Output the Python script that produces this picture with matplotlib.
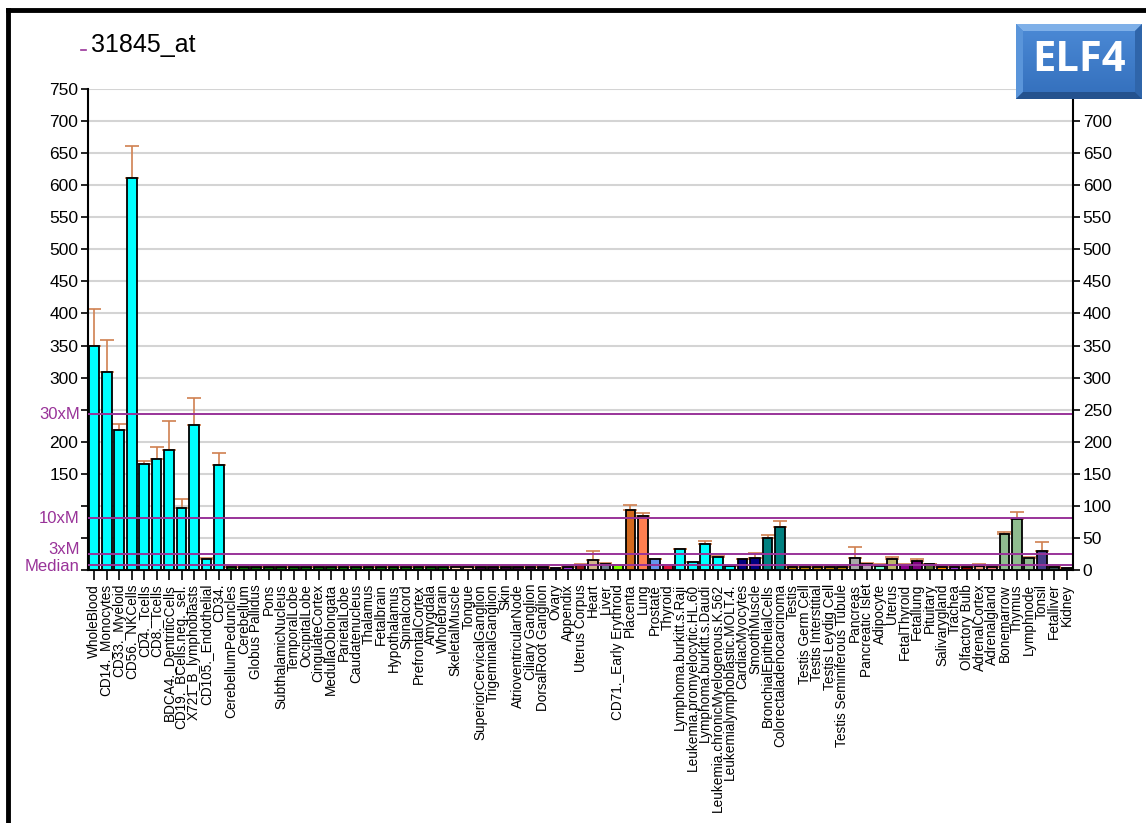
import matplotlib
matplotlib.use("Agg")
import matplotlib.pyplot as plt
from matplotlib.patches import Polygon
from matplotlib.lines import Line2D
import numpy as np

plt.rcParams['font.family'] = ['Liberation Sans', 'DejaVu Sans']

probe = "31845_at"
gene = "ELF4"

tissues = [
    "WholeBlood", "CD14._Monocytes", "CD33._Myeloid", "CD56._NKCells", "CD4._Tcells",
    "CD8._Tcells", "BDCA4._DentriticCells", "CD19._BCells.neg._sel.", "X721_B_lymphoblasts",
    "CD105._Endothelial", "CD34.", "CerebellumPeduncles", "Cerebellum", "Globus Pallidus",
    "Pons", "SubthalamicNucleus", "TemporalLobe", "OccipitalLobe", "CingulateCortex",
    "MedullaOblongata", "ParietalLobe", "Caudatenucleus", "Thalamus", "Fetalbrain",
    "Hypothalamus", "Spinalcord", "PrefrontalCortex", "Amygdala", "Wholebrain",
    "SkeletalMuscle", "Tongue", "SuperiorCervicalGanglion", "TrigeminalGanglion", "Skin",
    "AtrioventricularNode", "Ciliary Ganglion", "DorsalRoot Ganglion", "Ovary", "Appendix",
    "Uterus Corpus", "Heart", "Liver", "CD71._Early Erythroid", "Placenta", "Lung",
    "Prostate", "Thyroid", "Lymphoma.burkitt.s.Raji", "Leukemia.promyelocytic.HL.60",
    "Lymphoma.burkitt.s.Daudi", "Leukemia.chronicMyelogenous.K.562",
    "Leukemialymphoblastic.MOLT.4.", "CardiacMyocytes", "SmoothMuscle",
    "BronchialEpithelialCells", "Colorectaladenocarcinoma", "Testis", "Testis Germ Cell",
    "Testis Interstitial", "Testis Leydig Cell", "Testis Seminiferous Tubule", "Pancreas",
    "Pancreatic Islet", "Adipocyte", "Uterus", "FetalThyroid", "Fetallung", "Pituitary",
    "Salivarygland", "Trachea", "Olfactory Bulb", "AdrenalCortex", "Adrenalgland",
    "Bonemarrow", "Thymus", "Lymphnode", "Tonsil", "Fetalliver", "Kidney",
]

values = [
    350, 309, 218, 611, 165, 173, 187, 96, 226, 17, 163,
    4, 4, 4, 4, 4, 4, 4, 4, 4, 4, 4, 4, 4, 5, 5, 5, 5, 4,
    4, 4, 4, 4, 5, 4, 4, 4, 3, 4,
    8, 16, 9, 8, 93, 84, 17, 8,
    33, 12.5, 41, 21, 6.5, 17, 19, 50, 67,
    4, 4, 4, 4, 4, 19, 10, 7, 17, 8, 14.5, 9.5,
    5, 5, 5, 6.5, 5, 55.5, 79.5, 19, 29, 5, 3,
]

errors = [
    57, 50, 10, 50, 5, 19, 45, 15, 42, 2, 20,
    0.5, 0.5, 0.5, 0.5, 0.5, 0.5, 0.5, 3, 0.5, 0.5, 0.5, 0.5, 0.5, 2, 2, 2, 2, 0.5,
    1, 0.5, 0.5, 0.5, 2, 0.5, 0.5, 0.5, 0.5, 0.5,
    1, 13, 2.5, 0.5, 8, 5, 0.5, 0.5,
    0.5, 0.5, 4, 0.5, 0.5, 0.5, 8, 5, 10,
    0.5, 0.5, 0.5, 0.5, 0.5, 17, 0.5, 2, 2.5, 1, 2.5, 0.5,
    0.5, 0.5, 0.5, 3, 0.5, 3, 11.5, 2, 14.5, 0.5, 0.5,
]

colors = (
    ["#00FFFF"] * 11
    + ["#006400"] * 18
    + ["#FFDAB9"] * 2
    + ["#300030"] * 6
    + ["#0000CD", "#9932CC", "#8B1A1A", "#D2B48C", "#708090", "#7CFC00",
       "#D2691E", "#FF7F50", "#6495ED", "#DC143C"]
    + ["#00FFFF"] * 5
    + ["#000080"] * 2
    + ["#008080"] * 2
    + ["#B8860B"] * 5
    + ["#A9A9A9", "#B5A3B5", "#7FFFD4", "#BDB76B", "#8B008B", "#800080", "#556B2F",
       "#FF8C00", "#9932CC", "#8B0000", "#E9967A", "#F08080"]
    + ["#8FBC8F"] * 3
    + ["#483D8B", "#2F4F4F", "#1C2F2F"]
)

median = 8.1
multiples = [1, 3, 10, 30]
multiple_labels = ["Median", "3xM", "10xM", "30xM"]

purple = "#993399"
W, H = 1146, 823

fig = plt.figure(figsize=(W / 100, H / 100), dpi=100)
ax = fig.add_axes([88 / W, 1 - 570 / H, 985 / W, 481 / H])

x = np.arange(len(tissues))
ax.bar(x, values, width=0.78, color=colors, edgecolor="black", linewidth=1.3, zorder=3)
ax.errorbar(x, values, yerr=[np.zeros(len(errors)), errors], fmt="none",
            ecolor="#D08050", elinewidth=1.2, capsize=5, capthick=1.2, zorder=2)

ax.set_xlim(-0.5, len(tissues) - 0.5)
ax.set_ylim(0, 750)

# gridlines every 50
yt = np.arange(0, 751, 50)
for v in yt[1:]:
    ax.axhline(v, color="#D4D4D4", lw=1.5, zorder=0)

# median multiples
for m in multiples:
    ax.axhline(m * median, color=purple, lw=1.4, zorder=4)

ax.set_yticks(yt)
hidden = {0, 50, 100, 250}
ax.set_yticklabels(["" if v in hidden else str(v) for v in yt], fontsize=12.5)
ax.tick_params(axis="y", direction="out", length=5, width=1.2, pad=2)

# purple labels for the median lines; 3xM nudged up so it clears "Median"
offsets = {"Median": -1.5, "3xM": 5, "10xM": 0, "30xM": 0}
for m, lab in zip(multiples, multiple_labels):
    ax.annotate(lab, xy=(0, m * median), xycoords=ax.get_yaxis_transform(),
                xytext=(-8, offsets[lab]), textcoords="offset pixels",
                ha="right", va="center", color=purple, fontsize=12)

ax.set_xticks(x)
ax.set_xticklabels(tissues, rotation=90, fontsize=9.8, va="top", ha="center")
ax.tick_params(axis="x", direction="out", length=7, width=1.2, pad=3)

ax.spines["top"].set_visible(False)
ax.spines["right"].set_visible(False)
ax.spines["left"].set_linewidth(1.5)
ax.spines["bottom"].set_linewidth(1.5)

ax2 = ax.twinx()
ax2.set_ylim(0, 750)
ax2.set_yticks(yt)
ax2.set_yticklabels([str(v) for v in yt], fontsize=12.5)
ax2.tick_params(axis="y", direction="out", length=5, width=1.2, pad=2)
ax2.spines["right"].set_linewidth(1.5)
for side in ["top", "left", "bottom"]:
    ax2.spines[side].set_visible(False)

# probe title with its small legend dash
fig.add_artist(Line2D([81 / W, 86 / W], [1 - 50 / H] * 2, color=purple, lw=1.2))
fig.text(91 / W, 1 - 45 / H, probe, fontsize=18, va="center", ha="left")

# gene name badge with bevelled edges
bw, bh, bv = 126, 75, 7
bax = fig.add_axes([1016 / W, 1 - 99 / H, bw / W, bh / H], zorder=10)
bax.set_xlim(0, bw)
bax.set_ylim(0, bh)
bax.axis("off")
grad = np.linspace(0, 1, 64)[:, None]
top_rgb = np.array([0x4C, 0x8A, 0xD6]) / 255
bot_rgb = np.array([0x33, 0x6F, 0xBC]) / 255
img = top_rgb * (1 - grad[..., None]) + bot_rgb * grad[..., None]
bax.imshow(np.repeat(img, 2, axis=1), extent=(0, bw, 0, bh), aspect="auto", origin="upper")
bevels = [
    ([(0, bh), (bw, bh), (bw - bv, bh - bv), (bv, bh - bv)], "#7FB0E8"),
    ([(0, 0), (0, bh), (bv, bh - bv), (bv, bv)], "#5A95DA"),
    ([(bw, 0), (bw, bh), (bw - bv, bh - bv), (bw - bv, bv)], "#2F65AA"),
    ([(0, 0), (bw, 0), (bw - bv, bv), (bv, bv)], "#24528E"),
]
for pts, c in bevels:
    bax.add_patch(Polygon(pts, closed=True, facecolor=c, edgecolor="none"))
bax.text(bw / 2, bh / 2 + 1, gene, fontsize=30, fontweight="bold", color="white",
         family=["Open Sans", "DejaVu Sans"], ha="center", va="center")

# outer frame
fig.add_artist(Line2D([7.5 / W, 7.5 / W], [0, 1 - 10 / H], color="black", lw=3.5))
fig.add_artist(Line2D([7.5 / W, 1], [1 - 10 / H] * 2, color="black", lw=3.5))

fig.savefig("out.png", dpi=100)
